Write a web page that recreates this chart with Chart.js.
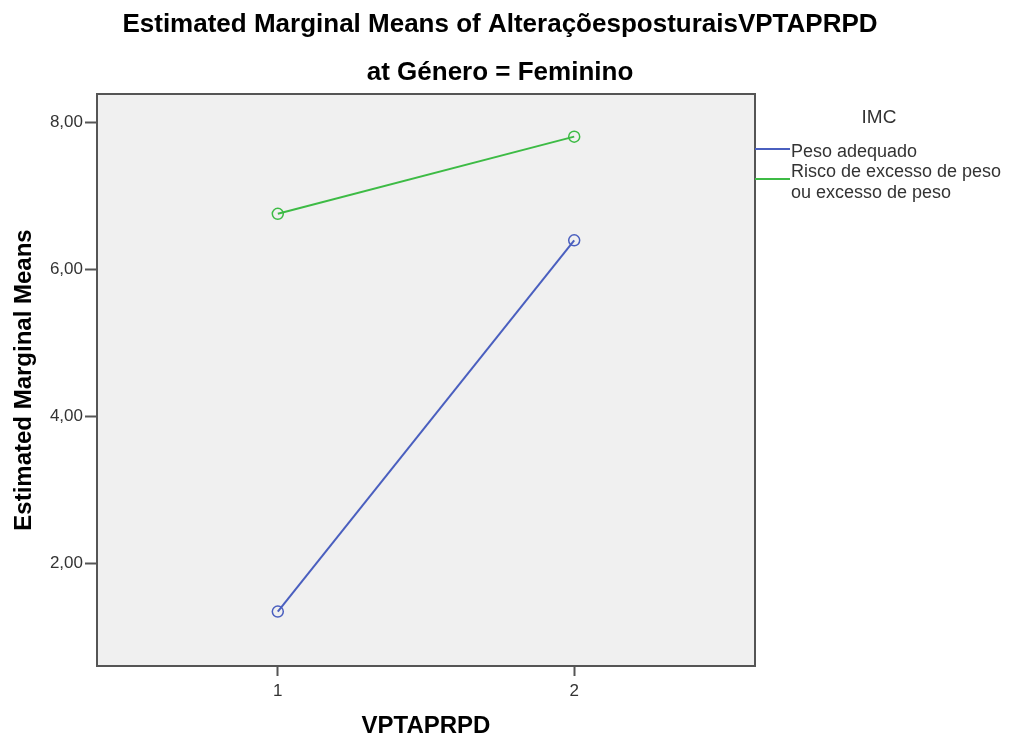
<!DOCTYPE html>
<html>
<head>
<meta charset="utf-8">
<script src="https://cdn.jsdelivr.net/npm/chart.js@4/dist/chart.umd.min.js"></script>
<style>
  html, body { margin: 0; padding: 0; background: #fff; }
  #wrap { width: 1010px; height: 742px; }
</style>
</head>
<body>
<div id="wrap"><canvas id="c" width="1010" height="742"></canvas></div>
<script>
// categorias de VPTAPRPD e médias marginais por grupo de IMC
const niveis = [1, 2];
const pesoAdequado = [1.35, 6.40];
const riscoExcesso = [6.76, 7.81];
const yTicks = [2, 4, 6, 8];
const seriesNomes = ['Peso adequado', ['Risco de excesso de peso', 'ou excesso de peso']];
const cores = ['#4a5fbf', '#3dbb45'];

const FONT = "'Liberation Sans', Arial, sans-serif";

const pts = arr => niveis.map((n, i) => ({ x: n, y: arr[i] }));

// fundo cinza e moldura da área do gráfico, títulos e legenda à direita
const moldura = {
  id: 'moldura',
  beforeDraw(chart) {
    const { ctx, chartArea: a } = chart;
    ctx.save();
    ctx.fillStyle = '#f0f0f0';
    ctx.fillRect(a.left, a.top, a.right - a.left, a.bottom - a.top);
    ctx.restore();
  },
  afterDraw(chart) {
    const { ctx, chartArea: a } = chart;
    ctx.save();
    ctx.strokeStyle = '#555';
    ctx.lineWidth = 2;
    ctx.strokeRect(a.left, a.top, a.right - a.left, a.bottom - a.top);

    ctx.fillStyle = '#000';
    ctx.textAlign = 'center';
    ctx.textBaseline = 'middle';
    ctx.font = 'bold 26px ' + FONT;
    ctx.fillText('Estimated Marginal Means of AlteraçõesposturaisVPTAPRPD', 500, 25);
    ctx.fillText('at Género = Feminino', 500, 73);

    // legenda
    ctx.fillStyle = '#333';
    ctx.font = '19px ' + FONT;
    ctx.fillText('IMC', 879, 118);
    ctx.font = '18px ' + FONT;
    ctx.textAlign = 'left';
    const linhaY = [149, 179];
    const textoY = [[152], [172, 193]];
    chart.data.datasets.forEach((ds, i) => {
      ctx.strokeStyle = ds.borderColor;
      ctx.lineWidth = 2;
      ctx.beginPath();
      ctx.moveTo(a.right, linhaY[i]);
      ctx.lineTo(a.right + 35, linhaY[i]);
      ctx.stroke();
      const linhas = Array.isArray(ds.label) ? ds.label : [ds.label];
      linhas.forEach((t, k) => ctx.fillText(t, a.right + 36, textoY[i][k]));
    });
    ctx.restore();
  }
};

new Chart(document.getElementById('c'), {
  type: 'line',
  data: {
    datasets: [
      { label: seriesNomes[0], data: pts(pesoAdequado), borderColor: cores[0] },
      { label: seriesNomes[1], data: pts(riscoExcesso), borderColor: cores[1] }
    ].map(ds => Object.assign(ds, {
      borderWidth: 2,
      pointRadius: 5.5,
      pointBorderWidth: 1.5,
      pointBackgroundColor: 'rgba(0,0,0,0)',
      pointBorderColor: ds.borderColor,
      tension: 0
    }))
  },
  options: {
    responsive: false,
    animation: false,
    layout: { padding: { top: 94, right: 255, left: 0, bottom: 0 } },
    plugins: { legend: { display: false }, tooltip: { enabled: false } },
    scales: {
      x: {
        type: 'linear',
        min: 0.39, max: 2.61,
        afterBuildTicks: s => { s.ticks = niveis.map(v => ({ value: v })); },
        afterFit: s => { s.height = 76; },
        grid: { drawOnChartArea: false, tickLength: 10, tickColor: '#555', tickWidth: 2 },
        border: { color: '#555', width: 2 },
        ticks: { color: '#333', font: { family: FONT, size: 17 }, padding: 5 },
        title: {
          display: true, text: 'VPTAPRPD', color: '#000',
          font: { family: FONT, size: 24, weight: 'bold' },
          padding: { top: 0, bottom: 1 }
        }
      },
      y: {
        min: 0.61, max: 8.39,
        afterBuildTicks: s => { s.ticks = yTicks.map(v => ({ value: v })); },
        afterFit: s => { s.width = 97; },
        grid: { drawOnChartArea: false, tickLength: 12, tickColor: '#555', tickWidth: 2 },
        border: { color: '#555', width: 2 },
        ticks: {
          color: '#333', font: { family: FONT, size: 17 }, padding: 2,
          callback: v => v.toFixed(2).replace('.', ',')
        },
        title: {
          display: true, text: 'Estimated Marginal Means', color: '#000',
          font: { family: FONT, size: 24, weight: 'bold' },
          padding: { top: 10, bottom: 0 }
        }
      }
    }
  },
  plugins: [moldura]
});
</script>
</body>
</html>
